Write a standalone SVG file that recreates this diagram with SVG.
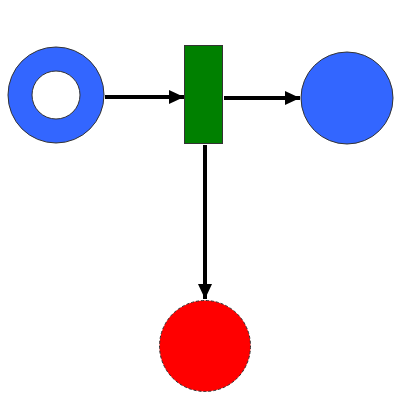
<svg xmlns="http://www.w3.org/2000/svg" width="400" height="400" viewBox="0 0 400 400">
<defs>
<marker id="ah" markerUnits="userSpaceOnUse" markerWidth="16" markerHeight="16" refX="15" refY="7" orient="auto">
<path d="M0,0 L15,7 L0,14 Z" fill="#000"/>
</marker>
<style>
.place{fill:#3366ff;stroke:#333;stroke-width:1}
.edge{stroke:#000;stroke-width:4;fill:none;marker-end:url(#ah)}
</style>
</defs>
<rect width="400" height="400" fill="#fff"/>
<g id="connectors">
<line class="edge" x1="105" y1="97" x2="184" y2="97"/>
<line class="edge" x1="224" y1="98" x2="300" y2="98"/>
<line class="edge" x1="205" y1="145" x2="205" y2="299"/>
</g>
<g id="p1">
<path class="place" fill-rule="evenodd" d="M8,95 a48,48 0 1,0 96,0 a48,48 0 1,0 -96,0 Z M32,95 a24,24 0 1,0 48,0 a24,24 0 1,0 -48,0 Z"/>
</g>
<g id="t1">
<rect x="184.5" y="45.5" width="38" height="98" fill="#008000" stroke="#333" stroke-width="1"/>
</g>
<g id="p2">
<circle class="place" cx="347" cy="98" r="46"/>
</g>
<g id="p3">
<circle cx="205" cy="346" r="45.5" fill="#ff0000" stroke="#333" stroke-width="1" stroke-dasharray="3,2"/>
</g>
</svg>
